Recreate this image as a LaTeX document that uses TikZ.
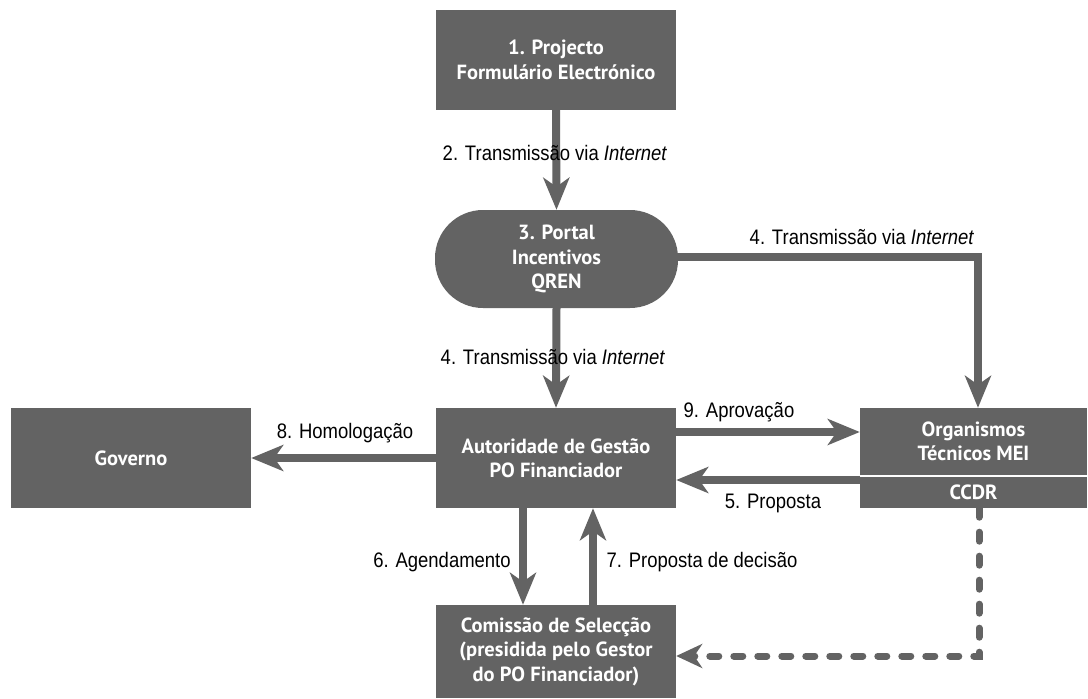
\documentclass[tikz,border=0pt]{standalone}
\usepackage{fontspec}
\setmainfont{PT Sans}
\newfontfamily\lblfont[FakeStretch=0.88]{Liberation Sans}
\usetikzlibrary{arrows.meta}
\definecolor{boxgray}{RGB}{99,99,99}
\tikzset{
  box/.style={fill=boxgray, text=white, font=\fontsize{20.5}{24.5}\selectfont\bfseries, align=center, inner sep=0pt, minimum width=240pt, minimum height=100pt},
  conn/.style={draw=boxgray, line width=8pt, -{Stealth[length=32pt,width=26pt,inset=9pt]}},
  dconn/.style={draw=boxgray, line width=7pt, line cap=round, dash pattern=on 9pt off 15pt, -{Stealth[length=26pt,width=24pt,inset=8pt]}},
  lbl/.style={font=\lblfont\fontsize{21}{22}\selectfont, text=black, inner sep=0pt}
}
\begin{document}
\begin{tikzpicture}[x=1pt,y=-1pt]
\useasboundingbox (0,0) rectangle (1088,699);
% nodes
\node[box] (p1) at (556,60) {1. Projecto\\Formulário Electrónico};
\node[box, minimum width=243pt, minimum height=98pt, rounded corners=48pt] (portal) at (556.5,259) {3. Portal\\Incentivos\\QREN};
\node[box] (aut) at (556,458) {Autoridade de Gestão\\PO Financiador};
\node[box] (gov) at (131,458) {Governo};
\node[box, minimum width=227pt, minimum height=67pt] (org) at (973.5,441.5) {Organismos\\Técnicos MEI};
\node[box, minimum width=227pt, minimum height=31pt] (ccdr) at (973.5,492.5) {CCDR};
\node[box, minimum height=93pt] (com) at (556,651.5) {Comissão de Selecção\\(presidida pelo Gestor\\do PO Financiador)};
% helper coordinates
\coordinate (c1) at (978,257);
\coordinate (c2) at (979,656);
% connectors
\draw[conn] (p1.south) -- (portal.north);
\draw[conn] (portal.south) -- (aut.north);
\draw[conn] (portal.east |- c1) -- (c1) -- (c1 |- org.north);
\draw[conn] (aut.east |- 0,432) -- (org.west |- 0,432);
\draw[conn] (ccdr.west |- 0,480) -- (aut.east |- 0,480);
\draw[conn] (aut.west) -- (gov.east);
\draw[conn] (aut.south -| 523,0) -- (com.north -| 523,0);
\draw[conn] (com.north -| 593,0) -- (aut.south -| 593,0);
\draw[dconn] (ccdr.south -| c2) -- (c2) -- (com.east |- c2);
% labels
\node[lbl] (l2) at (555,153) {2. Transmissão via \textit{Internet}};
\node[lbl] (l4a) at (862,237) {4. Transmissão via \textit{Internet}};
\node[lbl] (l4b) at (553,357) {4. Transmissão via \textit{Internet}};
\node[lbl] (l8) at (345,433) {8. Homologação};
\node[lbl] (l9) at (739,412) {9. Aprovação};
\node[lbl] (l5) at (773,503) {5. Proposta};
\node[lbl] (l6) at (442,562) {6. Agendamento};
\node[lbl] (l7) at (702,562) {7. Proposta de decisão};
\end{tikzpicture}
\end{document}
